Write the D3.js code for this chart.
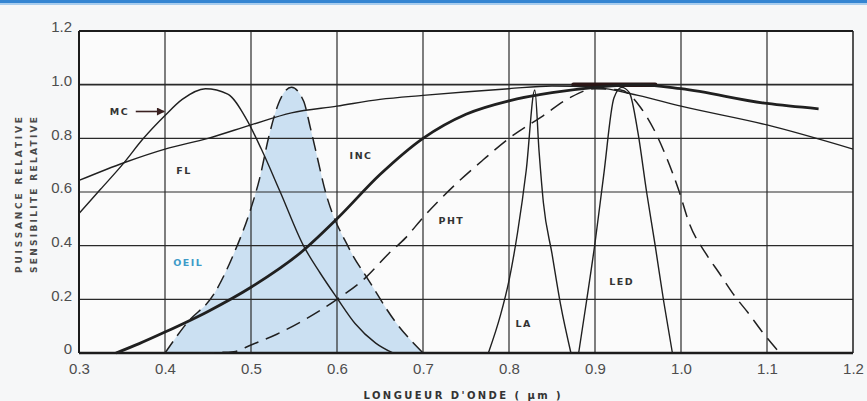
<!DOCTYPE html>
<html>
<head>
<meta charset="utf-8">
<script src="https://cdn.jsdelivr.net/npm/d3@7"></script>
<style>
  body { margin: 0; background: #f6f7f8; }
  svg { display: block; }
</style>
</head>
<body>
<div id="chart"></div>
<script>
// tick values and labels
var xTicks = [0.3, 0.4, 0.5, 0.6, 0.7, 0.8, 0.9, 1.0, 1.1, 1.2]
var xTickLabels = ["0.3", "0.4", "0.5", "0.6", "0.7", "0.8", "0.9", "1.0", "1.1", "1.2"]
var yTicks = [0, 0.2, 0.4, 0.6, 0.8, 1.0, 1.2]
var yTickLabels = ["0", "0.2", "0.4", "0.6", "0.8", "1.0", "1.2"]

// curves, [wavelength um, relative value]
var mc = [[0.3,0.643],[0.353,0.71],[0.4,0.76],[0.45,0.80],[0.5,0.85],[0.547,0.895],[0.6,0.92],
  [0.65,0.945],[0.7,0.96],[0.8,0.985],[0.85,0.995],[0.9,0.99],[0.95,0.96],[1.0,0.92],[1.1,0.85],[1.2,0.76]]
var fl = [[0.3,0.52],[0.325,0.61],[0.35,0.70],[0.375,0.80],[0.4,0.885],[0.42,0.945],[0.447,0.985],
  [0.473,0.965],[0.495,0.87],[0.512,0.76],[0.534,0.6],[0.561,0.40],[0.58,0.30],[0.6,0.205],
  [0.621,0.11],[0.645,0.037],[0.665,0]]
var inc = [[0.343,0],[0.37,0.035],[0.4,0.078],[0.45,0.155],[0.5,0.245],[0.56,0.38],[0.6,0.5],
  [0.65,0.665],[0.7,0.80],[0.75,0.89],[0.8,0.94],[0.85,0.97],[0.9,0.99],[0.95,1.0],
  [1.0,0.985],[1.1,0.93],[1.16,0.91]]
var oeil = [[0.4,0],[0.425,0.11],[0.457,0.22],[0.48,0.37],[0.499,0.53],[0.51,0.65],[0.521,0.81],
  [0.532,0.93],[0.547,0.99],[0.561,0.94],[0.569,0.84],[0.577,0.73],[0.585,0.62],[0.614,0.39],
  [0.637,0.27],[0.667,0.12],[0.70,0]]
var pht = [[0.44,0],[0.48,0.005],[0.5,0.03],[0.53,0.07],[0.56,0.12],[0.6,0.2],[0.633,0.28],
  [0.66,0.37],[0.68,0.43],[0.7,0.505],[0.735,0.62],[0.77,0.72],[0.8,0.8],[0.84,0.885],[0.87,0.95],
  [0.9,0.985],[0.93,0.98],[0.953,0.915],[0.969,0.83],[0.983,0.73],[0.997,0.61],[1.01,0.48],
  [1.029,0.37],[1.044,0.30],[1.063,0.21],[1.078,0.15],[1.093,0.085],[1.115,0]]
var la = [[0.776,0],[0.79,0.14],[0.80,0.27],[0.81,0.45],[0.82,0.68],[0.83,0.98],
  [0.835,0.75],[0.84,0.56],[0.85,0.37],[0.86,0.18],[0.872,0]]
var led = [[0.881,0],[0.89,0.19],[0.9,0.41],[0.91,0.66],[0.922,0.95],[0.931,0.99],
  [0.94,0.97],[0.95,0.82],[0.96,0.6],[0.97,0.40],[0.98,0.19],[0.99,0]]
var peakZone = [0.875, 0.97]

// curve labels: text, x, y
var labels = [
  ["MC", 0.347, 0.90],
  ["FL", 0.422, 0.68],
  ["INC", 0.628, 0.736],
  ["PHT", 0.733, 0.494],
  ["LA", 0.817, 0.108],
  ["LED", 0.931, 0.264]
]
var eyeLabel = ["OEIL", 0.427, 0.335]
var mcArrow = [[0.366, 0.90], [0.399, 0.90]]

const W = 867, H = 401
const margin = {top: 31, right: 14, bottom: 48, left: 79}
const width = W - margin.left - margin.right
const height = H - margin.top - margin.bottom

var root = d3.select("#chart").append("svg")
    .attr("width", W)
    .attr("height", H)

// blue header strip
root.append("rect").attr("x", 0).attr("y", 0).attr("width", W).attr("height", 3).attr("fill", "#3585d2")
root.append("rect").attr("x", 0).attr("y", 3).attr("width", W).attr("height", 2).attr("fill", "#a9cdee")

var svg = root.append("g")
    .attr("transform", "translate(" + margin.left + "," + margin.top + ")")

var x = d3.scaleLinear().domain([0.3, 1.2]).range([0, width])
var y = d3.scaleLinear().domain([0, 1.2]).range([height, 0])

svg.append("rect")
    .attr("width", width).attr("height", height)
    .attr("fill", "#fbfbfb")

// eye sensitivity fill
svg.append("path")
    .datum(oeil)
    .attr("fill", "#cbe0f2")
    .attr("d", d3.area()
        .x(function(d) { return x(d[0]) })
        .y0(y(0))
        .y1(function(d) { return y(d[1]) })
        .curve(d3.curveMonotoneX))

// grid
svg.append("g")
    .selectAll("line")
    .data(xTicks.slice(1, -1))
    .join("line")
    .attr("x1", function(d) { return x(d) }).attr("x2", function(d) { return x(d) })
    .attr("y1", 0).attr("y2", height)
    .attr("stroke", "#2a2a2a").attr("stroke-width", 1.2)
svg.append("g")
    .selectAll("line")
    .data(yTicks.slice(1, -1))
    .join("line")
    .attr("x1", 0).attr("x2", width)
    .attr("y1", function(d) { return y(d) }).attr("y2", function(d) { return y(d) })
    .attr("stroke", "#2a2a2a").attr("stroke-width", function(d) { return d == 1.0 ? 1.8 : 1.2 })

// dark smudge where the curves meet at the top
svg.append("line")
    .attr("x1", x(peakZone[0])).attr("x2", x(peakZone[1]))
    .attr("y1", y(1.0)).attr("y2", y(1.0))
    .attr("stroke", "#2b1616").attr("stroke-width", 4.5).attr("stroke-linecap", "round")

// frame
svg.append("line").attr("x1", 0).attr("x2", width).attr("y1", 0).attr("y2", 0)
    .attr("stroke", "#1c1c1c").attr("stroke-width", 2)
svg.append("line").attr("x1", 0).attr("x2", width).attr("y1", height).attr("y2", height)
    .attr("stroke", "#1c1c1c").attr("stroke-width", 2.6)
svg.append("line").attr("x1", 0).attr("x2", 0).attr("y1", 0).attr("y2", height)
    .attr("stroke", "#1c1c1c").attr("stroke-width", 2)
svg.append("line").attr("x1", width).attr("x2", width).attr("y1", 0).attr("y2", height)
    .attr("stroke", "#1c1c1c").attr("stroke-width", 1.5)

var line = d3.line()
    .x(function(d) { return x(d[0]) })
    .y(function(d) { return y(d[1]) })
    .curve(d3.curveMonotoneX)

var curves = [
  {data: mc, w: 1.4, dash: null},
  {data: fl, w: 1.4, dash: null},
  {data: la, w: 1.4, dash: null},
  {data: led, w: 1.4, dash: null},
  {data: oeil, w: 1.5, dash: "14,7"},
  {data: pht, w: 1.5, dash: "15,8"},
  {data: inc, w: 2.8, dash: null}
]

svg.append("g")
    .selectAll("path")
    .data(curves)
    .join("path")
    .attr("fill", "none")
    .attr("stroke", "#202020")
    .attr("stroke-width", function(d) { return d.w })
    .attr("stroke-dasharray", function(d) { return d.dash })
    .attr("d", function(d) { return line(d.data) })

// axes
var xAxis = svg.append("g")
    .attr("transform", "translate(0," + height + ")")
    .call(d3.axisBottom(x).tickValues(xTicks).tickSize(0).tickPadding(10)
        .tickFormat(function(d, i) { return xTickLabels[i] }))
xAxis.select(".domain").remove()
xAxis.selectAll("text")
    .style("font-family", "'Liberation Sans', Arial, sans-serif")
    .style("font-size", "15px")
    .attr("fill", "#4d4d4d")

var yAxis = svg.append("g")
    .call(d3.axisLeft(y).tickValues(yTicks).tickSize(0).tickPadding(7)
        .tickFormat(function(d, i) { return yTickLabels[i] }))
yAxis.select(".domain").remove()
yAxis.selectAll("text")
    .attr("dy", "0.05em")
    .style("font-family", "'Liberation Sans', Arial, sans-serif")
    .style("font-size", "15px")
    .attr("fill", "#4d4d4d")

// curve labels
svg.append("g")
    .selectAll("text")
    .data(labels)
    .join("text")
    .attr("x", function(d) { return x(d[1]) })
    .attr("y", function(d) { return y(d[2]) })
    .attr("dy", "0.35em")
    .attr("text-anchor", "middle")
    .style("font-family", "'DejaVu Sans', sans-serif")
    .style("font-weight", "bold")
    .style("font-size", "9.5px")
    .style("letter-spacing", "1.5px")
    .attr("fill", "#333")
    .text(function(d) { return d[0] })

svg.append("text")
    .attr("x", x(eyeLabel[1]))
    .attr("y", y(eyeLabel[2]))
    .attr("dy", "0.35em")
    .attr("text-anchor", "middle")
    .style("font-family", "'DejaVu Sans', sans-serif")
    .style("font-weight", "bold")
    .style("font-size", "9.5px")
    .style("letter-spacing", "1.5px")
    .attr("fill", "#3e9ac8")
    .text(eyeLabel[0])

// MC arrow
svg.append("defs").append("marker")
    .attr("id", "arrow")
    .attr("viewBox", "0 0 10 10")
    .attr("refX", 9).attr("refY", 5)
    .attr("markerWidth", 6).attr("markerHeight", 5)
    .attr("orient", "auto")
    .append("path").attr("d", "M0,0L10,5L0,10z").attr("fill", "#3a2020")
svg.append("line")
    .attr("x1", x(mcArrow[0][0])).attr("y1", y(mcArrow[0][1]))
    .attr("x2", x(mcArrow[1][0])).attr("y2", y(mcArrow[1][1]))
    .attr("stroke", "#3a2020").attr("stroke-width", 1.6)
    .attr("marker-end", "url(#arrow)")

// axis titles
root.append("text")
    .attr("transform", "translate(22,195) rotate(-90)")
    .attr("text-anchor", "middle")
    .attr("textLength", 156)
    .style("font-family", "'DejaVu Sans', sans-serif")
    .style("font-weight", "bold")
    .style("font-size", "9px")
    .attr("fill", "#4a4a4a")
    .text("PUISSANCE RELATIVE")
root.append("text")
    .attr("transform", "translate(37,195) rotate(-90)")
    .attr("text-anchor", "middle")
    .attr("textLength", 156)
    .style("font-family", "'DejaVu Sans', sans-serif")
    .style("font-weight", "bold")
    .style("font-size", "9px")
    .attr("fill", "#4a4a4a")
    .text("SENSIBILITE RELATIVE")
root.append("text")
    .attr("x", 462).attr("y", 399)
    .attr("text-anchor", "middle")
    .attr("textLength", 197)
    .style("font-family", "'DejaVu Sans', sans-serif")
    .style("font-weight", "bold")
    .style("font-size", "10px")
    .attr("fill", "#333")
    .text("LONGUEUR D'ONDE ( μm )")
</script>
</body>
</html>
